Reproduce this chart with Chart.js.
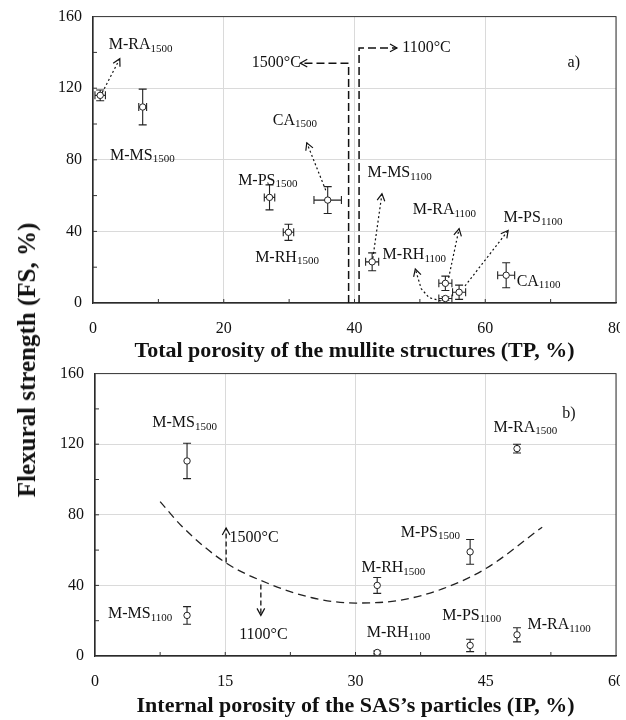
<!DOCTYPE html>
<html>
<head>
<meta charset="utf-8">
<script src="https://cdn.jsdelivr.net/npm/chart.js@4.4.1/dist/chart.umd.min.js"></script>
<style>
html, body { margin: 0; padding: 0; background: #fff; overflow: hidden; }
#wrap { position: relative; width: 620px; height: 720px; overflow: hidden; }
#chartA { position: absolute; left: 0; top: -4px; }
#chartB { position: absolute; left: 0; top: 353px; }
#ytitle {
    position: absolute; left: 27px; top: 360px;
    transform: translate(-50%, -50%) rotate(-90deg);
    font: bold 25px "Liberation Serif", serif; color: #111; white-space: nowrap;
}
</style>
</head>
<body>
<div id="wrap">
    <canvas id="chartA" width="640" height="369"></canvas>
    <canvas id="chartB" width="640" height="367"></canvas>
    <div id="ytitle">Flexural strength (FS, %)</div>
</div>
<script>
// --- panel a) : total porosity vs flexural strength
const tpNames = ['M-RA1500', 'M-MS1500', 'M-PS1500', 'M-RH1500', 'CA1500', 'M-MS1100', 'M-RA1100', 'M-RH1100', 'M-PS1100', 'CA1100'];
const tpX     = [1.1, 7.6, 27.0, 29.9, 35.9, 42.7, 53.9, 53.9, 56.0, 63.2];
const tpY     = [116, 109.5, 59, 39.5, 57.5, 23, 11, 2.5, 6, 15.5];
const tpXErr  = [0.8, 0.6, 0.8, 0.8, 2.1, 1.0, 1.0, 1.0, 1.0, 1.3];
const tpYErr  = [3, 10, 7, 4.5, 7.5, 5, 4, 1, 4, 7];
const tpTicksX = [0, 20, 40, 60, 80];

// --- panel b) : internal porosity vs flexural strength
const ipNames = ['M-MS1500', 'M-MS1100', 'M-RH1500', 'M-RH1100', 'M-PS1500', 'M-PS1100', 'M-RA1500', 'M-RA1100'];
const ipX     = [10.6, 10.6, 32.5, 32.5, 43.2, 43.2, 48.6, 48.6];
const ipY     = [110.5, 23, 40, 2, 59, 6, 117.5, 12];
const ipYErr  = [10, 5, 4.5, 0.8, 7, 3.5, 2.5, 4];
const ipTicksX = [0, 15, 30, 45, 60];

// dashed trend curve in b)
const curveX = [7.5, 10, 15, 20, 25, 30, 35, 40, 45, 51.5];
const curveY = [87.5, 73.5, 53, 41, 33, 30, 31.5, 38, 49.5, 73];

const fsTicks = [0, 40, 80, 120, 160];

const FONT = '"Liberation Serif", serif';
const INK = '#111';

// annotations (text + arrows), in data units
const notesA = [
    {t: 'M-RA', s: '1500', x: 2.4, y: 144},
    {t: 'M-MS', s: '1500', x: 2.6, y: 82.5},
    {t: 'CA', s: '1500', x: 27.5, y: 102},
    {t: 'M-PS', s: '1500', x: 22.2, y: 68.5},
    {t: 'M-RH', s: '1500', x: 24.8, y: 25.5},
    {t: 'M-MS', s: '1100', x: 42, y: 72.5},
    {t: 'M-RH', s: '1100', x: 44.3, y: 27},
    {t: 'M-RA', s: '1100', x: 48.9, y: 52},
    {t: 'M-PS', s: '1100', x: 62.8, y: 47.5},
    {t: 'CA', s: '1100', x: 64.8, y: 12},
    {t: 'a)', x: 72.6, y: 134},
    {t: '1500°C', x: 24.3, y: 134},
    {t: '1100°C', x: 47.3, y: 142.5}
];
const arrowsA = [
    {pts: [[39.1, 0], [39.1, 134], [31.7, 134]], dash: [8, 4], w: 1.5},
    {pts: [[40.7, 0], [40.7, 142.5], [46.5, 142.5]], dash: [8, 4], w: 1.5},
    {pts: [[1.4, 117.5], [4.1, 136.5]], dash: [2, 2.5], w: 1.2},
    {pts: [[35.6, 63], [32.7, 89.5]], dash: [2, 2.5], w: 1.2},
    {pts: [[42.8, 25], [44.2, 61]], dash: [2, 2.5], w: 1.2},
    {pts: [[53.2, 1.2], [51.4, 3], [50.2, 8], [49.3, 19]], dash: [2, 2.5], w: 1.2},
    {pts: [[54.4, 14], [56, 41.5]], dash: [2, 2.5], w: 1.2},
    {pts: [[56.9, 9.5], [63.5, 40.5]], dash: [2, 2.5], w: 1.2}
];

const notesB = [
    {t: 'M-MS', s: '1500', x: 6.6, y: 132},
    {t: 'M-MS', s: '1100', x: 1.5, y: 24},
    {t: 'M-RA', s: '1500', x: 45.9, y: 129.5},
    {t: 'M-PS', s: '1500', x: 35.2, y: 70},
    {t: 'M-RH', s: '1500', x: 30.7, y: 50},
    {t: 'M-PS', s: '1100', x: 40, y: 23},
    {t: 'M-RH', s: '1100', x: 31.3, y: 13},
    {t: 'M-RA', s: '1100', x: 49.8, y: 17.5},
    {t: 'b)', x: 53.8, y: 137},
    {t: '1500°C', x: 15.5, y: 67},
    {t: '1100°C', x: 16.6, y: 12}
];
const arrowsB = [
    {pts: [[15.1, 53], [15.1, 72.5]], dash: [5, 3], w: 1.3},
    {pts: [[19.1, 40.5], [19.1, 23]], dash: [5, 3], w: 1.3}
];

const drawNote = (ctx, sx, sy, n) => {
    const px = sx.getPixelForValue(n.x);
    const py = sy.getPixelForValue(n.y);
    ctx.fillStyle = INK;
    ctx.textAlign = 'left';
    ctx.textBaseline = 'middle';
    ctx.font = '16px ' + FONT;
    ctx.fillText(n.t, px, py);
    if (n.s) {
        const w = ctx.measureText(n.t).width;
        ctx.font = '11px ' + FONT;
        ctx.fillText(n.s, px + w, py + 4);
    }
};

const drawArrow = (ctx, sx, sy, a) => {
    const p = a.pts.map(([x, y]) => [sx.getPixelForValue(x), sy.getPixelForValue(y)]);
    ctx.save();
    ctx.strokeStyle = INK;
    ctx.lineWidth = a.w;
    ctx.setLineDash(a.dash);
    ctx.beginPath();
    ctx.moveTo(p[0][0], p[0][1]);
    for (let i = 1; i < p.length; i++) ctx.lineTo(p[i][0], p[i][1]);
    ctx.stroke();
    // open arrow head at the end
    const [x1, y1] = p[p.length - 2];
    const [x2, y2] = p[p.length - 1];
    const ang = Math.atan2(y2 - y1, x2 - x1);
    const L = 8;
    ctx.setLineDash([]);
    ctx.lineWidth = 1.2;
    ctx.beginPath();
    ctx.moveTo(x2 - L * Math.cos(ang - 0.5), y2 - L * Math.sin(ang - 0.5));
    ctx.lineTo(x2, y2);
    ctx.lineTo(x2 - L * Math.cos(ang + 0.5), y2 - L * Math.sin(ang + 0.5));
    ctx.stroke();
    ctx.restore();
};

// error bars, frame, minor ticks and notes
const makeDecor = (xs, ys, xErr, yErr, notes, arrows, minorX, minorY) => ({
    id: 'decor',
    beforeDatasetsDraw(chart) {
        const {ctx, scales: {x: sx, y: sy}} = chart;
        ctx.save();
        ctx.strokeStyle = '#222';
        ctx.lineWidth = 1.1;
        xs.forEach((xv, i) => {
            const px = sx.getPixelForValue(xv);
            const py = sy.getPixelForValue(ys[i]);
            if (yErr) {
                const t = sy.getPixelForValue(ys[i] + yErr[i]);
                const b = sy.getPixelForValue(Math.max(0, ys[i] - yErr[i]));
                ctx.beginPath();
                ctx.moveTo(px, t); ctx.lineTo(px, b);
                ctx.moveTo(px - 4, t); ctx.lineTo(px + 4, t);
                ctx.moveTo(px - 4, b); ctx.lineTo(px + 4, b);
                ctx.stroke();
            }
            if (xErr) {
                const l = sx.getPixelForValue(xv - xErr[i]);
                const r = sx.getPixelForValue(xv + xErr[i]);
                ctx.beginPath();
                ctx.moveTo(l, py); ctx.lineTo(r, py);
                ctx.moveTo(l, py - 4); ctx.lineTo(l, py + 4);
                ctx.moveTo(r, py - 4); ctx.lineTo(r, py + 4);
                ctx.stroke();
            }
        });
        ctx.restore();
    },
    afterDraw(chart) {
        const {ctx, chartArea: ca, scales: {x: sx, y: sy}} = chart;
        ctx.save();
        ctx.strokeStyle = '#333';
        ctx.lineWidth = 1;
        ctx.strokeRect(ca.left, ca.top, ca.right - ca.left, ca.bottom - ca.top);
        ctx.beginPath();
        for (let v = sx.min + minorX; v < sx.max; v += minorX) {
            const px = sx.getPixelForValue(v);
            ctx.moveTo(px, ca.bottom); ctx.lineTo(px, ca.bottom - 4);
        }
        for (let v = sy.min + minorY; v < sy.max; v += minorY) {
            const py = sy.getPixelForValue(v);
            ctx.moveTo(ca.left, py); ctx.lineTo(ca.left + 4, py);
        }
        ctx.stroke();
        ctx.restore();
        arrows.forEach(a => drawArrow(ctx, sx, sy, a));
        notes.forEach(n => drawNote(ctx, sx, sy, n));
    }
});

const axisX = (ticks, title, h) => ({
    type: 'linear',
    min: ticks[0],
    max: ticks[ticks.length - 1],
    afterBuildTicks: (s) => { s.ticks = ticks.map(v => ({value: v})); },
    afterFit: (s) => { s.height = h; },
    ticks: {font: {family: FONT, size: 16}, color: INK, padding: 16},
    grid: {color: '#dadada', drawTicks: false},
    border: {color: '#222', width: 1.2},
    title: {display: true, text: title, color: INK, font: {family: FONT, size: 22, weight: 'bold'}, padding: {top: 0, bottom: 0}}
});

const axisY = (w) => ({
    type: 'linear',
    min: 0,
    max: 160,
    afterBuildTicks: (s) => { s.ticks = fsTicks.map(v => ({value: v})); },
    afterFit: (s) => { s.width = w; },
    ticks: {font: {family: FONT, size: 16}, color: INK, padding: 11},
    grid: {color: '#dadada', drawTicks: false},
    border: {color: '#222', width: 1.2}
});

const pointSet = (xs, ys) => ({
    type: 'scatter',
    data: xs.map((x, i) => ({x: x, y: ys[i]})),
    pointRadius: 3.2,
    pointBackgroundColor: '#fff',
    pointBorderColor: '#222',
    pointBorderWidth: 1,
    showLine: false
});

const chartA = new Chart(document.getElementById('chartA'), {
    type: 'scatter',
    data: {datasets: [pointSet(tpX, tpY)]},
    options: {
        responsive: false,
        animation: false,
        layout: {padding: {left: 0, top: 0, right: 24, bottom: 0}},
        plugins: {legend: {display: false}, tooltip: {enabled: false}},
        scales: {
            x: axisX(tpTicksX, 'Total porosity of the mullite structures (TP, %)', 62),
            y: axisY(93)
        }
    },
    plugins: [makeDecor(tpX, tpY, tpXErr, tpYErr, notesA, arrowsA, 10, 20)]
});

const chartB = new Chart(document.getElementById('chartB'), {
    type: 'scatter',
    data: {
        datasets: [
            pointSet(ipX, ipY),
            {
                type: 'line',
                data: curveX.map((x, i) => ({x: x, y: curveY[i]})),
                borderColor: '#222',
                borderWidth: 1.3,
                borderDash: [8, 5],
                pointRadius: 0,
                cubicInterpolationMode: 'monotone',
                fill: false
            }
        ]
    },
    options: {
        responsive: false,
        animation: false,
        layout: {padding: {left: 0, top: 0, right: 23, bottom: 0}},
        plugins: {legend: {display: false}, tooltip: {enabled: false}},
        scales: {
            x: axisX(ipTicksX, 'Internal porosity of the SAS\u2019s particles (IP, %)', 64),
            y: axisY(95)
        }
    },
    plugins: [makeDecor(ipX, ipY, null, ipYErr, notesB, arrowsB, 7.5, 20)]
});
</script>
</body>
</html>
